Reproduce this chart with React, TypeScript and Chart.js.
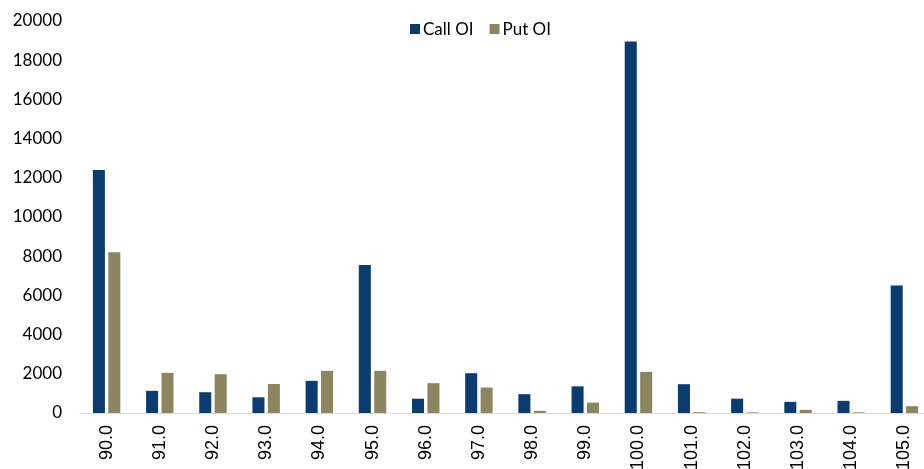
import React, { useEffect, useRef } from "react";
import { Chart, registerables } from "chart.js";

Chart.register(...registerables);

const strikes = ["90.0", "91.0", "92.0", "93.0", "94.0", "95.0", "96.0", "97.0", "98.0", "99.0", "100.0", "101.0", "102.0", "103.0", "104.0", "105.0"];
const callOI = [12400, 1130, 1060, 800, 1640, 7550, 730, 2030, 960, 1360, 18950, 1470, 730, 570, 620, 6500];
const putOI = [8200, 2050, 1980, 1480, 2150, 2150, 1520, 1300, 110, 530, 2100, 40, 30, 160, 30, 350];
const yTicks = [0, 2000, 4000, 6000, 8000, 10000, 12000, 14000, 16000, 18000, 20000];

const topLegend = {
  id: "topLegend",
  afterDraw(chart: any) {
    const ctx = chart.ctx;
    const font = "17px Lato";
    const box = 10;
    const gap = 3;
    const spacing = 16;
    ctx.save();
    ctx.font = font;
    const items = chart.data.datasets.map((d: any) => ({ label: d.label, color: d.backgroundColor, w: ctx.measureText(d.label).width }));
    const total = items.reduce((a: number, it: any) => a + box + gap + it.w, 0) + spacing * (items.length - 1);
    const cx = (chart.chartArea.left + chart.chartArea.right) / 2 - 25;
    let x = cx - total / 2;
    const cy = 29;
    ctx.textBaseline = "middle";
    ctx.textAlign = "left";
    for (const it of items) {
      ctx.fillStyle = it.color;
      ctx.fillRect(x, cy - box / 2, box, box);
      x += box + gap;
      ctx.fillStyle = "#000000";
      ctx.fillText(it.label, x, cy + 1);
      x += it.w + spacing;
    }
    ctx.restore();
  },
};

export default function App() {
  const ref = useRef<HTMLCanvasElement>(null);
  useEffect(() => {
    if (!ref.current) return;
    const chart = new Chart(ref.current, {
      type: "bar",
      data: {
        labels: strikes,
        datasets: [
          { label: "Call OI", data: callOI, backgroundColor: "#0a3c6f", borderWidth: 0, barPercentage: 0.78, categoryPercentage: 0.58 },
          { label: "Put OI", data: putOI, backgroundColor: "#8b8660", borderWidth: 0, barPercentage: 0.78, categoryPercentage: 0.58 },
        ],
      },
      options: {
        responsive: false,
        animation: false,
        maintainAspectRatio: false,
        layout: { padding: { top: 21, right: 0, left: 0, bottom: 0 } },
        plugins: {
          legend: { display: false },
          tooltip: { enabled: false },
        },
        scales: {
          x: {
            grid: { display: false, drawTicks: false },
            border: { display: true, color: "#d9d9d9", width: 1 },
            ticks: {
              minRotation: 90,
              maxRotation: 90,
              padding: 12,
              color: "#000000",
              font: { family: "Liberation Sans", size: 18 },
              autoSkip: false,
            },
            afterFit: (s: any) => { s.height = 56; s.paddingLeft = 0; s.paddingRight = 0; },
          },
          y: {
            min: 0,
            max: 20000,
            afterBuildTicks: (s: any) => { s.ticks = yTicks.map((v) => ({ value: v })); },
            grid: { display: false, drawTicks: false },
            border: { display: false },
            ticks: {
              padding: 18,
              color: "#000000",
              font: { family: "Lato", size: 17 },
              callback: (v: any) => String(v),
            },
            afterFit: (s: any) => { s.width = 80; s.paddingTop = 0; s.paddingBottom = 0; },
          },
        },
      },
      plugins: [topLegend],
    });
    return () => chart.destroy();
  }, []);
  return (
    <div style={{ position: "fixed", left: 0, top: 0, width: 924, height: 469, overflow: "hidden", background: "#fff" }}>
      <canvas ref={ref} width={931} height={469} style={{ display: "block" }} />
    </div>
  );
}
